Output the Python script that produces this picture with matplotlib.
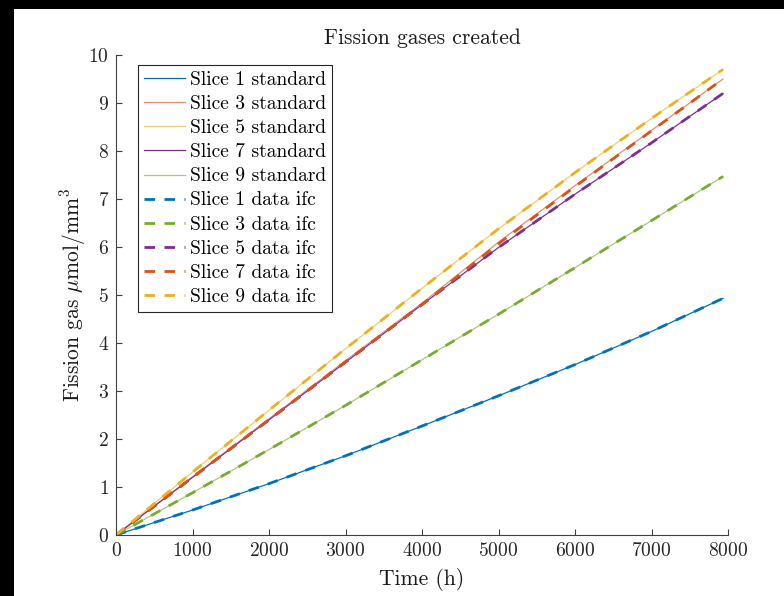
import matplotlib
matplotlib.use("Agg")
import matplotlib.pyplot as plt
from matplotlib.patches import Rectangle

plt.rcParams["font.family"] = "serif"
plt.rcParams["font.serif"] = ["cmr10"]
plt.rcParams["mathtext.fontset"] = "cm"
plt.rcParams["axes.formatter.use_mathtext"] = True

# Time points (h)
time_h = [0, 1000, 2000, 3000, 4000, 5000, 6000, 7000, 7935]

# Standard runs (umol/mm^3)
slice1_std = [0, 0.52, 1.07, 1.65, 2.27, 2.90, 3.55, 4.24, 4.93]
slice3_std = [0, 1.21, 2.42, 3.63, 4.83, 6.10, 7.28, 8.43, 9.50]
slice5_std = [0, 1.31, 2.60, 3.88, 5.14, 6.38, 7.55, 8.68, 9.70]
slice7_std = [0, 1.20, 2.40, 3.60, 4.80, 5.99, 7.10, 8.17, 9.20]
slice9_std = [0, 0.88, 1.78, 2.70, 3.65, 4.60, 5.57, 6.55, 7.47]

# Data ifc runs (umol/mm^3)
slice1_ifc = [0, 0.52, 1.07, 1.65, 2.27, 2.90, 3.55, 4.24, 4.93]
slice3_ifc = [0, 0.88, 1.78, 2.70, 3.65, 4.60, 5.57, 6.55, 7.47]
slice5_ifc = [0, 1.20, 2.40, 3.60, 4.80, 5.99, 7.10, 8.17, 9.20]
slice7_ifc = [0, 1.20, 2.40, 3.61, 4.80, 6.07, 7.26, 8.42, 9.50]
slice9_ifc = [0, 1.31, 2.60, 3.88, 5.14, 6.38, 7.55, 8.68, 9.70]

std_series = [
    ("Slice 1 standard", slice1_std, "#0072BD"),
    ("Slice 3 standard", slice3_std, "#D95319"),
    ("Slice 5 standard", slice5_std, "#EDB120"),
    ("Slice 7 standard", slice7_std, "#7E2F8E"),
    ("Slice 9 standard", slice9_std, "#77AC30"),
]
ifc_series = [
    ("Slice 1 data ifc", slice1_ifc, "#0072BD"),
    ("Slice 3 data ifc", slice3_ifc, "#77AC30"),
    ("Slice 5 data ifc", slice5_ifc, "#7E2F8E"),
    ("Slice 7 data ifc", slice7_ifc, "#D95319"),
    ("Slice 9 data ifc", slice9_ifc, "#EDB120"),
]

fig = plt.figure(figsize=(7.84, 5.96), dpi=100)
fig.patch.set_facecolor("black")
# white canvas, leaving a black strip on the left and top
fig.patches.append(Rectangle((14 / 784, 0), 1, (596 - 9) / 596,
                             transform=fig.transFigure, facecolor="white",
                             edgecolor="none", zorder=-10))

ax = fig.add_axes([116 / 784, 61 / 596, 612 / 784, 480 / 596])

for label, y, c in std_series:
    alpha = 1.0 if c in ("#0072BD", "#7E2F8E") else 0.65
    ax.plot(time_h, y, color=c, lw=0.9, alpha=alpha, label=label)
for label, y, c in ifc_series:
    ax.plot(time_h, y, color=c, lw=2.0, dashes=(3.8, 3.4), label=label)

ax.set_xlim(0, 8000)
ax.set_ylim(0, 10)
ax.set_xticks(range(0, 8001, 1000))
ax.set_yticks(range(0, 11))

ax.spines["top"].set_visible(False)
ax.spines["right"].set_visible(False)
for side in ("left", "bottom"):
    ax.spines[side].set_color("#404040")
    ax.spines[side].set_linewidth(0.8)
ax.tick_params(direction="in", length=4.5, width=0.8, color="#404040",
               labelsize=14, labelcolor="#262626", pad=5)

ax.set_title("Fission gases created", fontsize=15.5, color="#1a1a1a", pad=8)
ax.set_xlabel("Time (h)", fontsize=15.5, color="#1a1a1a", labelpad=6)
ax.set_ylabel(r"Fission gas $\mu$mol/mm$^3$", fontsize=15.5, color="#1a1a1a",
              labelpad=0)

leg = ax.legend(loc="upper left", bbox_to_anchor=(22 / 612, 470 / 480),
                borderaxespad=0, fontsize=14, frameon=True, fancybox=False,
                framealpha=1, edgecolor="#262626", handlelength=2.1,
                handletextpad=0.26, labelspacing=0.32, borderpad=0.3)
leg.get_frame().set_linewidth(0.8)

fig.savefig("out.png", dpi=100, facecolor=fig.get_facecolor())
